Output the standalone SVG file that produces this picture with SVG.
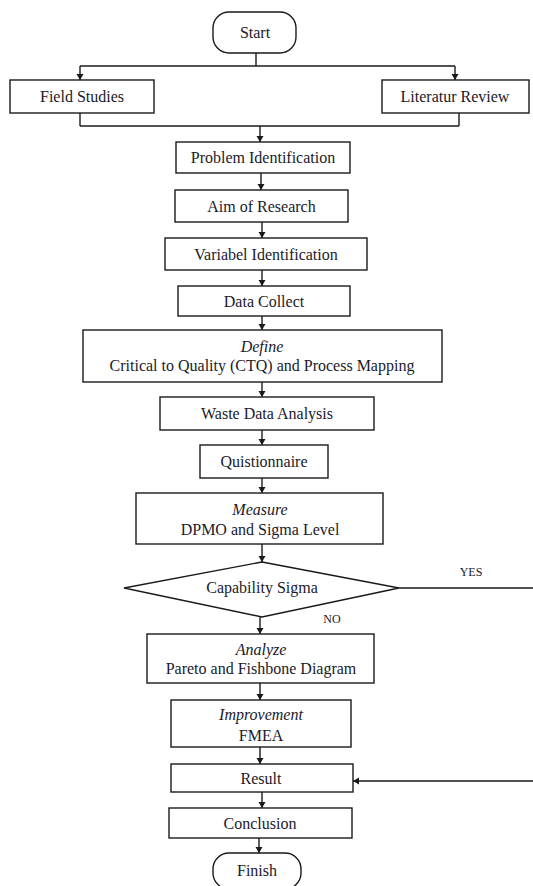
<svg xmlns="http://www.w3.org/2000/svg" width="533" height="886" viewBox="0 0 533 886">
<style>
  .box { fill: #ffffff; stroke: #1a1a1a; stroke-width: 1.4; }
  .t { font-family: "Liberation Serif", "Times New Roman", serif; font-size: 16px; fill: #1a1a2a; text-anchor: middle; }
  .it { font-style: italic; }
  .lbl { font-family: "Liberation Serif", "Times New Roman", serif; font-size: 12px; fill: #1a1a2a; text-anchor: middle; }
  .c { fill: none; stroke: #1a1a1a; stroke-width: 1.4; }
  .a { marker-end: url(#arr); }
</style>
<defs>
  <marker id="arr" markerUnits="userSpaceOnUse" markerWidth="8" markerHeight="8" refX="6" refY="3.5" orient="auto">
    <path d="M0,0 L6,3.5 L0,7 Z" fill="#1a1a1a"/>
  </marker>
</defs>
<rect width="533" height="886" fill="#ffffff"/>

<g id="connectors">
  <line class="c" x1="256" y1="53" x2="256" y2="66"/>
  <line class="c" x1="80" y1="66" x2="455" y2="66"/>
  <line class="c a" x1="80" y1="66" x2="80" y2="80"/>
  <line class="c a" x1="455" y1="66" x2="455" y2="80"/>
  <line class="c" x1="80" y1="113" x2="80" y2="126"/>
  <line class="c" x1="459" y1="113" x2="459" y2="126"/>
  <line class="c" x1="80" y1="126" x2="459" y2="126"/>
  <line class="c a" x1="260" y1="126" x2="260" y2="142"/>
  <line class="c a" x1="261" y1="173" x2="261" y2="190"/>
  <line class="c a" x1="262" y1="222" x2="262" y2="238"/>
  <line class="c a" x1="262" y1="270" x2="262" y2="286"/>
  <line class="c a" x1="262" y1="316" x2="262" y2="330"/>
  <line class="c a" x1="262" y1="382" x2="262" y2="397"/>
  <line class="c a" x1="262" y1="430" x2="262" y2="445"/>
  <line class="c a" x1="262" y1="478" x2="262" y2="493"/>
  <line class="c a" x1="262" y1="544" x2="262" y2="562"/>
  <line class="c a" x1="260" y1="617" x2="260" y2="634"/>
  <line class="c a" x1="260" y1="683" x2="260" y2="700"/>
  <line class="c a" x1="260" y1="747" x2="260" y2="764"/>
  <line class="c a" x1="262" y1="792" x2="262" y2="808"/>
  <line class="c a" x1="259" y1="838" x2="259" y2="853"/>
  <line class="c" x1="399" y1="588" x2="533" y2="588"/>
  <line class="c a" x1="533" y1="781" x2="353" y2="781"/>
  <text class="lbl" x="471" y="576">YES</text>
  <text class="lbl" x="332" y="623">NO</text>
</g>

<g id="start">
  <rect class="box" x="213" y="12" width="83" height="41" rx="16" ry="16"/>
  <text class="t" x="255" y="38">Start</text>
</g>
<g id="field-studies">
  <rect class="box" x="10" y="80" width="144" height="33"/>
  <text class="t" x="82" y="102">Field Studies</text>
</g>
<g id="literatur-review">
  <rect class="box" x="382" y="80" width="147" height="33"/>
  <text class="t" x="455" y="102">Literatur Review</text>
</g>
<g id="problem-identification">
  <rect class="box" x="176" y="142" width="174" height="31"/>
  <text class="t" x="263" y="163">Problem Identification</text>
</g>
<g id="aim-of-research">
  <rect class="box" x="175" y="190" width="173" height="32"/>
  <text class="t" x="261.5" y="211.5">Aim of Research</text>
</g>
<g id="variabel-identification">
  <rect class="box" x="165" y="238" width="202" height="32"/>
  <text class="t" x="266" y="259.5">Variabel Identification</text>
</g>
<g id="data-collect">
  <rect class="box" x="178" y="286" width="172" height="30"/>
  <text class="t" x="264" y="306.5">Data Collect</text>
</g>
<g id="define">
  <rect class="box" x="83" y="330" width="359" height="52"/>
  <text class="t it" x="262" y="352">Define</text>
  <text class="t" x="262" y="370.5">Critical to Quality (CTQ) and Process Mapping</text>
</g>
<g id="waste-data-analysis">
  <rect class="box" x="160" y="397" width="214" height="33"/>
  <text class="t" x="267" y="419">Waste Data Analysis</text>
</g>
<g id="quistionnaire">
  <rect class="box" x="200" y="445" width="128" height="33"/>
  <text class="t" x="264" y="467">Quistionnaire</text>
</g>
<g id="measure">
  <rect class="box" x="136" y="493" width="247" height="51"/>
  <text class="t it" x="260" y="515">Measure</text>
  <text class="t" x="260" y="535">DPMO and Sigma Level</text>
</g>
<g id="capability-sigma">
  <polygon class="box" points="262,562 399,588 262,617 124,588"/>
  <text class="t" x="262" y="593">Capability Sigma</text>
</g>
<g id="analyze">
  <rect class="box" x="147" y="634" width="227" height="49"/>
  <text class="t it" x="261" y="655">Analyze</text>
  <text class="t" x="261" y="673.5">Pareto and Fishbone Diagram</text>
</g>
<g id="improvement">
  <rect class="box" x="171" y="700" width="180" height="47"/>
  <text class="t it" x="261" y="720">Improvement</text>
  <text class="t" x="261" y="741">FMEA</text>
</g>
<g id="result">
  <rect class="box" x="171" y="764" width="182" height="28"/>
  <text class="t" x="261" y="783.5">Result</text>
</g>
<g id="conclusion">
  <rect class="box" x="169" y="808" width="183" height="30"/>
  <text class="t" x="260" y="828.5">Conclusion</text>
</g>
<g id="finish">
  <rect class="box" x="213" y="853" width="88" height="36" rx="16" ry="16"/>
  <text class="t" x="257" y="875.5">Finish</text>
</g>
</svg>
